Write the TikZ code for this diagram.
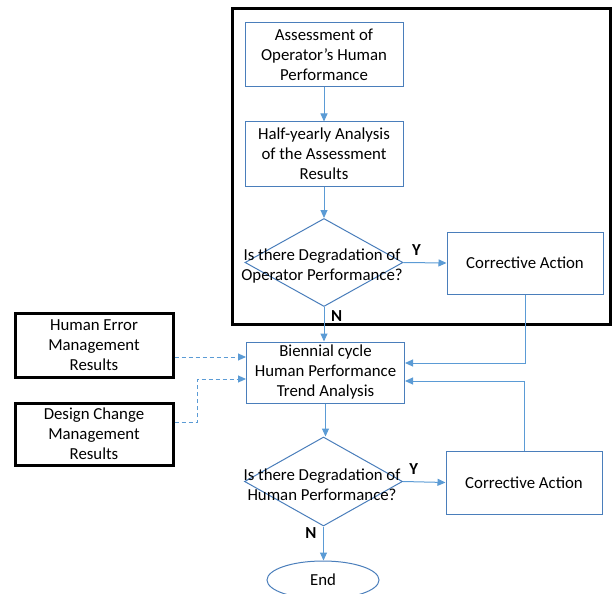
\documentclass[tikz,border=0pt]{standalone}
\usepackage{fontspec}
\setmainfont{Carlito}
\usetikzlibrary{shapes.geometric,arrows.meta,calc,positioning}
\definecolor{boxblue}{RGB}{74,126,187}
\definecolor{lineblue}{RGB}{91,155,213}
\tikzset{
  stepbox/.style={draw=boxblue,line width=1pt,rectangle,align=center,inner sep=0pt,minimum width=158pt,minimum height=64pt},
  inbox/.style={draw=black,line width=3pt,rectangle,align=center,inner sep=0pt,minimum width=158pt,minimum height=64pt},
  decision/.style={draw=boxblue,line width=1pt,diamond,inner sep=0pt,minimum width=158pt,minimum height=88pt},
  arr/.style={draw=lineblue,line width=1pt,-{Triangle[length=8pt,width=7pt]}},
  darr/.style={arr,dashed,dash pattern=on 4pt off 3pt},
  yn/.style={font=\bfseries}
}

\begin{document}
\begin{tikzpicture}[x=1pt,y=-1pt]
\fontsize{16.8}{20}\selectfont
\useasboundingbox (0,0) rectangle (614,594);
% operator loop frame
\draw[line width=3pt] (232,9) rectangle (610,324);
\node[stepbox] (assess) at (324,55) {Assessment of\\Operator’s Human\\Performance};
\node[stepbox] (halfyear) at (324,154) {Half-yearly Analysis\\of the Assessment\\Results};
\node[decision] (degop) at (324,262.5) {};
\node[align=center] (degoptext) at (322,266) {Is there Degradation of\\Operator Performance?};
\node[stepbox,minimum width=156pt,minimum height=62pt] (corr1) at (525,263) {Corrective Action};
% trend analysis
\node[stepbox,minimum height=61pt] (trend) at (325.5,372.5) {Biennial cycle\\Human Performance\\Trend Analysis};
\node[inbox] (herr) at (94,345) {Human Error\\Management\\Results};
\node[inbox,minimum height=62pt] (dchange) at (94,434) {Design Change\\Management\\Results};
\node[decision,minimum height=89pt] (deghp) at (323.5,481.5) {};
\node[align=center] (deghptext) at (322,485) {Is there Degradation of\\Human Performance?};
\node[stepbox,minimum width=156pt,minimum height=63pt] (corr2) at (524,482.5) {Corrective Action};
\node[draw=boxblue,line width=1pt,ellipse,minimum width=112pt,minimum height=38pt] (endnode) at (323,580) {End};
% connectors
\draw[arr] (assess) -- (halfyear);
\draw[arr] (halfyear) -- (degop);
\draw[arr] (degop.east) -- (corr1.west) node[yn,pos=0.3,above=1pt] {Y};
\draw[arr] (degop.south) -- (degop.south |- trend.north) node[yn,pos=0.25,right=1pt] {N};
\draw[arr] (corr1.south) |- ([yshift=9.5pt]trend.east);
\draw[arr] (corr2.north) |- ([yshift=-8.5pt]trend.east);
\draw[darr] ([yshift=-12pt]herr.east) -- ([yshift=-12pt]herr.east -| trend.west);
\draw[darr] ([yshift=12pt]dchange.east) -- ++(23,0) |- ([yshift=-6.5pt]trend.west);
\draw[arr] (trend.south) -- (trend.south |- deghp.north);
\draw[arr] (deghp.east) -- (corr2.west) node[yn,pos=0.25,above=1pt] {Y};
\draw[arr] (deghp.south) -- (deghp.south |- endnode.north) node[yn,pos=0.2,left=1pt] {N};
\end{tikzpicture}
\end{document}
